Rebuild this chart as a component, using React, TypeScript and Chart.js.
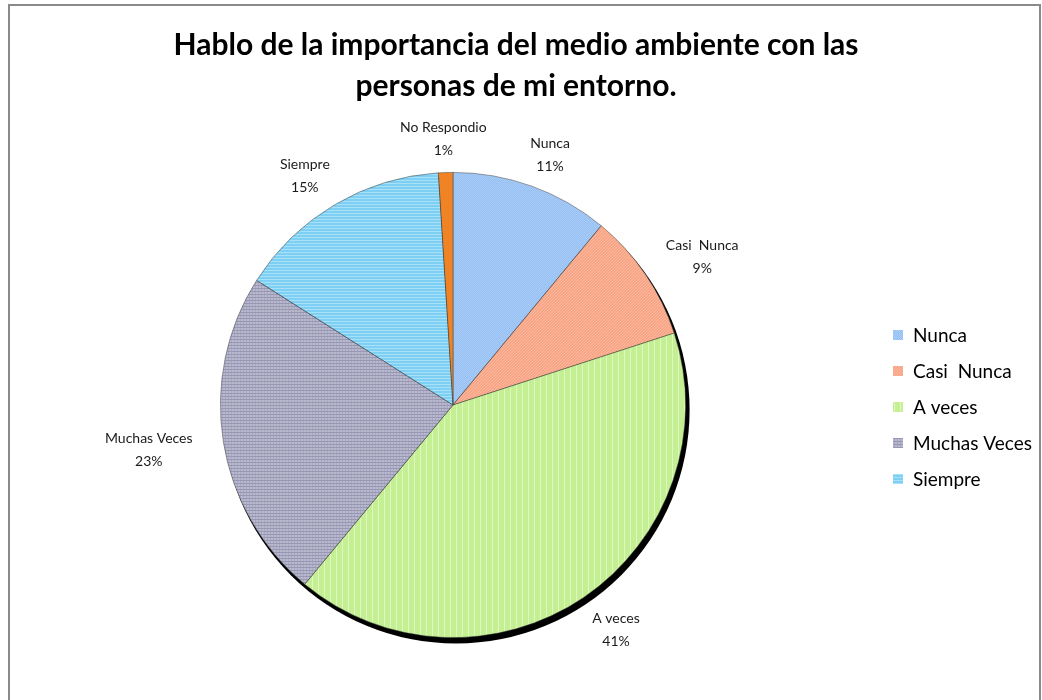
import React, { useEffect, useRef } from "react";
import { Chart, registerables } from "chart.js";

Chart.register(...registerables);

const categories = ["Nunca", "Casi  Nunca", "A veces", "Muchas Veces", "Siempre", "No Respondio"];
const percentages = [11, 9, 41, 23, 15, 1];
const legendCategories = ["Nunca", "Casi  Nunca", "A veces", "Muchas Veces", "Siempre"];
const titleLines = ["Hablo de la importancia del medio ambiente con las", "personas de mi entorno."];

const sliceBase = ["#96c0f3", "#f7a586", "#c4f093", "#b9b9cd", "#7dcff3", "#f08424"];
const sliceLine = ["#a8ccf6", "#fbb99d", "#dcf8c0", "#9898b6", "#a8e0f8", "#f08424"];
const slicePattern = ["dots", "diag", "vert", "grid", "horiz", "solid"];

function makePattern(kind: string, base: string, line: string): CanvasPattern | string {
  const c = document.createElement("canvas");
  c.width = 6;
  c.height = 6;
  const g = c.getContext("2d");
  if (!g) return base;
  g.fillStyle = base;
  g.fillRect(0, 0, 6, 6);
  g.fillStyle = line;
  if (kind === "dots") {
    for (let y = 0; y < 6; y++) for (let x = 0; x < 6; x++) if ((x + y) % 2 === 0) g.fillRect(x, y, 1, 1);
  } else if (kind === "diag") {
    for (let i = 0; i < 6; i++) { g.fillRect(i, 5 - i, 1, 1); g.fillRect(i, (8 - i) % 6, 1, 1); }
  } else if (kind === "vert") {
    g.fillRect(0, 0, 1, 6);
  } else if (kind === "grid") {
    g.fillRect(0, 0, 6, 1);
    g.fillRect(0, 3, 6, 1);
    g.globalAlpha = 0.5;
    g.fillRect(0, 0, 1, 6);
    g.fillRect(3, 0, 1, 6);
    g.globalAlpha = 1;
  } else if (kind === "horiz") {
    g.fillRect(0, 0, 6, 1);
    g.fillRect(0, 3, 6, 1);
  }
  const p = g.createPattern(c, "repeat");
  return p || base;
}

export default function App() {
  const ref = useRef<HTMLCanvasElement | null>(null);

  useEffect(() => {
    const canvas = ref.current;
    if (!canvas) return;
    const fills = sliceBase.map((b, i) => makePattern(slicePattern[i], b, sliceLine[i]));

    const decor = {
      id: "decor",
      beforeDraw(chart: any) {
        const ctx = chart.ctx;
        ctx.save();
        ctx.fillStyle = "#ffffff";
        ctx.fillRect(0, 0, chart.width, chart.height);
        ctx.strokeStyle = "#8a8a8a";
        ctx.lineWidth = 2;
        ctx.strokeRect(9, 5, 1031, 710);
        ctx.restore();
      },
      beforeDatasetsDraw(chart: any) {
        const arc = chart.getDatasetMeta(0).data[0];
        if (!arc) return;
        const ctx = chart.ctx;
        ctx.save();
        ctx.fillStyle = "#000000";
        ctx.beginPath();
        ctx.arc(arc.x + 3, arc.y + 5, arc.outerRadius + 1, 0, Math.PI * 2);
        ctx.fill();
        ctx.restore();
      },
      afterDatasetsDraw(chart: any) {
        const ctx = chart.ctx;
        const meta = chart.getDatasetMeta(0);
        ctx.save();
        // data labels
        ctx.font = "14px Lato";
        ctx.fillStyle = "#1a1a1a";
        ctx.textAlign = "center";
        ctx.textBaseline = "middle";
        meta.data.forEach((a: any, i: number) => {
          const mid = (a.startAngle + a.endAngle) / 2;
          const dx = Math.cos(mid);
          const dy = Math.sin(mid);
          const name = categories[i];
          const pct = percentages[i] + "%";
          const w = Math.max(ctx.measureText(name).width, ctx.measureText(pct).width);
          const r = a.outerRadius + 36;
          const cx = a.x + dx * r + dx * w * 0.45;
          const cy = a.y + dy * r + 2;
          ctx.fillText(name, cx, cy - 11);
          ctx.fillText(pct, cx, cy + 12);
        });
        // title
        ctx.font = "bold 30px Lato";
        ctx.fillStyle = "#000000";
        ctx.fillText(titleLines[0], 516, 45);
        ctx.fillText(titleLines[1], 516, 86);
        // legend
        ctx.font = "19px Lato";
        ctx.textAlign = "left";
        legendCategories.forEach((name, i) => {
          const y = 335 + i * 36;
          ctx.fillStyle = fills[i] as any;
          ctx.fillRect(893, y - 5, 10, 10);
          ctx.fillStyle = "#000000";
          ctx.fillText(name, 913, y + 1);
        });
        ctx.restore();
      },
    };

    const chart = new Chart(canvas, {
      type: "pie",
      data: {
        labels: categories,
        datasets: [
          {
            data: percentages,
            backgroundColor: fills as any,
            borderColor: "rgba(60,60,60,0.6)",
            borderWidth: 0.8,
            hoverOffset: 0,
          },
        ],
      },
      options: {
        responsive: false,
        animation: false,
        events: [],
        layout: { padding: { left: 220, right: 356, top: 172, bottom: 62 } },
        plugins: {
          legend: { display: false },
          title: { display: false },
          tooltip: { enabled: false },
        },
      },
      plugins: [decor],
    });
    return () => chart.destroy();
  }, []);

  return (
    <div style={{ position: "absolute", left: 0, top: 0, width: 1042, height: 700 }}>
      <canvas ref={ref} width={1042} height={700} style={{ display: "block" }} />
    </div>
  );
}
